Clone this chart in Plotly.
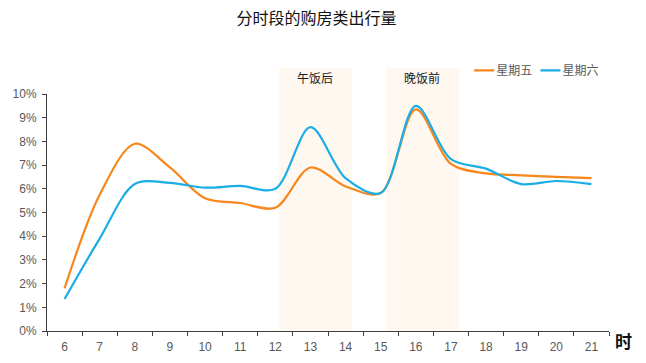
import plotly.graph_objects as go

hours = ["6","7","8","9","10","11","12","13","14","15","16","17","18","19","20","21"]
fri = [1.8, 5.75, 7.9, 6.9, 5.6, 5.4, 5.2, 6.9, 6.1, 5.82, 9.35, 7.05, 6.65, 6.57, 6.5, 6.45]
sat = [1.35, 3.9, 6.2, 6.25, 6.05, 6.12, 6.0, 8.6, 6.45, 5.82, 9.5, 7.25, 6.85, 6.2, 6.33, 6.2]
fri = [v / 100 for v in fri]
sat = [v / 100 for v in sat]
yticks = [i / 100 for i in range(0, 11)]
periods = [("午饭后", 6.1, 8.18), ("晚饭前", 9.15, 11.23)]

FONT = "Liberation Sans, Noto Sans CJK SC, sans-serif"

fig = go.Figure()
fig.add_trace(go.Scatter(x=hours, y=fri, mode="lines", name="星期五", legend="legend",
                         line=dict(color="#F7861B", width=2.2, shape="spline", smoothing=0.9)))
fig.add_trace(go.Scatter(x=hours, y=sat, mode="lines", name="星期六", legend="legend2",
                         line=dict(color="#1AADE6", width=2.2, shape="spline", smoothing=0.9)))

for label, x0, x1 in periods:
    fig.add_shape(type="rect", xref="x", yref="paper", x0=x0, x1=x1, y0=0, y1=1.11,
                  fillcolor="#FFF8F1", line=dict(width=0), layer="below")
    fig.add_annotation(x=(x0 + x1) / 2, xref="x", y=1.065, yref="paper", text=label,
                       xanchor="center", yanchor="middle",
                       showarrow=False, font=dict(size=12, color="#1a1a1a", family=FONT))

fig.add_annotation(x=1.025, xref="paper", y=-0.05, yref="paper", text="<b>时</b>",
                   showarrow=False, xanchor="center", yanchor="middle",
                   font=dict(size=17, color="#111111", family=FONT))

leg_common = dict(orientation="h", xanchor="left", y=1.1, yanchor="middle",
                  font=dict(size=12, color="#595959"), itemwidth=30, bgcolor="rgba(0,0,0,0)")

fig.update_layout(
    width=646, height=363,
    margin=dict(l=47, r=37, t=94, b=32, autoexpand=False),
    paper_bgcolor="white", plot_bgcolor="white",
    font=dict(family=FONT, color="#595959", size=12),
    title=dict(text="分时段的购房类出行量", x=0.49, xanchor="center", y=0.95, yanchor="middle",
               font=dict(size=16, color="#111111", family=FONT)),
    legend=dict(x=0.728, **leg_common),
    legend2=dict(x=0.846, **leg_common),
    showlegend=True,
)
fig.update_xaxes(type="category", range=[-0.5, 15.5], showline=True, linecolor="#404040", linewidth=1,
                 ticks="outside", tickson="boundaries", ticklen=4, tickcolor="#404040", automargin=False,
                 ticklabelstandoff=5,
                 showgrid=False, tickfont=dict(size=12, color="#595959"), fixedrange=True)
fig.update_yaxes(range=[0, 0.10], tickvals=yticks, tickformat=".0%", showline=True, automargin=False,
                 linecolor="#404040", linewidth=1, ticks="outside", ticklen=4, tickcolor="#404040",
                 ticklabelstandoff=3,
                 showgrid=False, zeroline=False, tickfont=dict(size=12, color="#595959"))

js = ("document.body.style.margin='0';"
      "document.querySelectorAll('.legendlines path').forEach(p => p.setAttribute('d','M18,0h20'));")
fig.write_html("out.html", config={"displayModeBar": False}, post_script=js)
